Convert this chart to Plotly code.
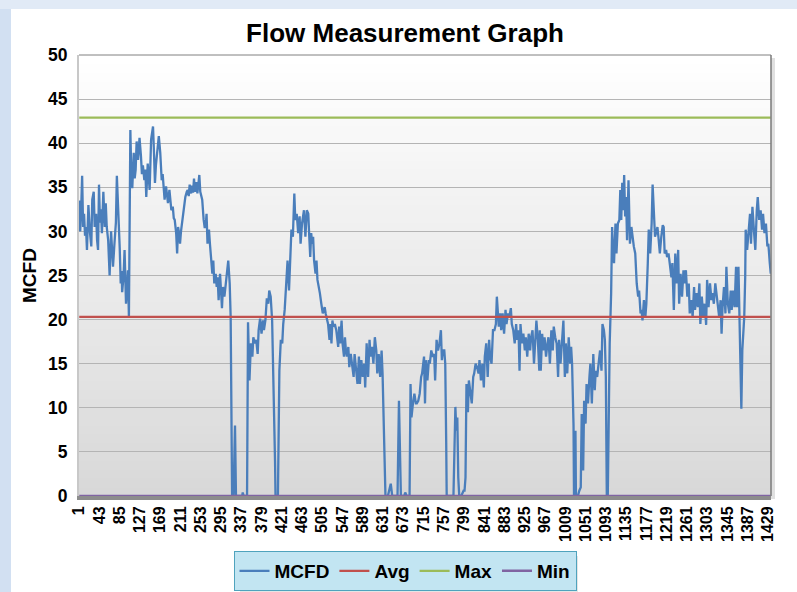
import plotly.graph_objects as go

# ---------------- data ----------------
n_points = 1435
tick_labels = [1, 43, 85, 127, 169, 211, 253, 295, 337, 379, 421, 463, 505, 547, 589,
               631, 673, 715, 757, 799, 841, 883, 925, 967, 1009, 1051, 1093, 1135,
               1177, 1219, 1261, 1303, 1345, 1387, 1429]

mcfd_pairs = [
    (1,33.5),(3,30.0),(5,32.5),(7,36.3),(9,30.5),(11,32.0),(13,29.5),(15,30.5),(17,27.9),(19,31.0),
    (20,33.0),(23,30.0),(26,28.3),(28,33.6),(31,34.5),(33,30.5),(36,32.0),(38,29.0),(40,27.9),(42,35.3),
    (44,31.0),(46,32.5),(48,29.8),(51,34.5),(54,30.5),(56,33.2),(58,30.5),(61,29.0),(64,25.0),(67,30.0),
    (69,27.0),(71,26.0),(74,28.6),(77,31.0),(79,36.3),(81,34.0),(83,31.3),(85,28.0),(87,24.1),(89,25.5),
    (90,23.1),(93,25.0),(95,27.9),(97,24.5),(98,21.8),(100,23.5),(102,25.6),(104,20.3),(107,41.5),(109,36.2),
    (111,34.9),(114,38.9),(116,36.0),(118,37.0),(120,40.2),(123,38.1),(126,40.6),(129,38.5),(131,36.5),(133,37.5),
    (136,35.8),(138,37.0),(140,33.9),(143,37.7),(145,36.5),(147,34.7),(150,40.4),(154,41.9),(156,38.9),(158,35.5),
    (160,37.5),(162,38.9),(166,40.8),(169,38.9),(172,35.8),(174,36.5),(176,34.7),(178,33.6),(181,35.1),(183,34.0),
    (185,33.2),(188,34.7),(190,33.5),(192,32.4),(195,32.8),(197,31.5),(199,31.3),(202,29.8),(204,27.5),(206,30.5),
    (208,29.8),(210,28.6),(212,30.0),(214,30.9),(217,32.8),(219,33.5),(221,33.9),(224,34.5),(226,34.7),(228,34.0),
    (230,35.3),(233,34.3),
    (235,35.2),(237,34.4),(239,36.0),(241,34.5),(244,35.6),(246,34.3),(248,35.8),(250,36.4),(252,34.5),(256,33.6),
    (259,31.3),(261,30.5),(263,30.5),(265,32.0),(267,28.6),(270,30.2),(272,28.6),(275,26.7),(277,25.2),(279,26.7),
    (281,24.1),(284,25.2),(286,23.7),(288,24.8),(290,22.2),(293,25.2),(295,22.6),(297,21.3),(299,23.7),(302,22.6),
    (305,24.1),(308,26.0),(310,26.7),(313,24.1),(315,20.3),(318,0.0),(321,0.0),(324,8.0),(326,0.0),(339,0.0),
    (340,0.4),(342,0.0),(349,0.0),(351,19.7),(354,13.1),(357,17.3),(360,15.8),(362,18.0),(365,17.3),(368,17.7),
    (371,16.1),(373,18.8),(376,20.1),(379,18.4),(382,19.9),(384,18.8),(387,19.9),(390,22.4),(393,21.8),(395,23.3),
    (398,22.6),(401,19.9),(404,13.5),(407,4.0),(408,0.0),(413,0.0),(416,14.2),(419,17.7),(422,17.3),(424,19.5),
    (427,21.1),(430,24.1),(433,26.7),(436,23.3),(438,27.1),(441,30.2),(444,29.4),(447,34.3),(449,31.3),(452,32.0),
    (455,29.8),(458,31.7),(460,28.6),(463,30.9),(467,32.4),(470,29.4),(473,32.4),
    (476,32.0),(478,29.4),(480,27.1),(482,29.8),(484,28.6),(486,29.4),(488,26.7),(491,25.2),(493,26.7),(495,24.5),
    (498,23.7),(500,23.0),(503,21.8),(506,20.7),(508,21.1),(510,21.4),(512,20.7),(514,20.3),(517,19.5),(520,17.7),
    (522,19.5),(524,17.3),(526,19.9),(528,19.2),(531,19.5),(534,18.8),(536,17.3),(538,16.9),(540,19.2),(542,17.3),
    (545,19.9),(547,17.3),(550,15.8),(552,18.0),(554,16.5),(556,15.8),(559,16.9),(561,14.6),(564,16.1),(567,15.0),
    (570,13.5),(572,16.1),(575,14.2),(578,12.7),(581,15.8),(583,12.7),(586,15.4),(589,13.5),(592,15.0),(594,12.3),
    (597,17.3),(600,13.5),(603,17.7),(605,15.8),(608,16.9),(611,15.0),(614,18.0),(617,16.5),(619,13.9),(622,16.1),
    (625,13.5),(628,16.5),(630,13.9),(632,8.2),(634,5.9),(636,0.0),(641,0.0),(644,0.6),(647,1.4),(650,0.0),
    (661,0.0),(664,10.8),(666,5.9),(668,0.0),(675,0.0),(677,0.4),(680,0.0),(686,0.0),(688,12.7),(690,8.9),
    (693,10.5),(696,11.6),(699,10.5),(701,10.5),(704,10.8),(707,11.6),(710,13.5),(712,13.9),
    (716,15.8),(718,10.5),(720,15.4),(723,13.1),(726,15.4),(728,15.0),(731,16.5),(734,15.8),(737,16.1),(739,13.1),
    (742,17.7),(745,16.5),(748,17.3),(751,18.8),(753,15.4),(755,16.5),(758,16.5),(760,15.0),(762,5.9),(763,0.0),
    (777,0.0),(779,5.9),(781,10.1),(783,7.4),(785,8.9),(787,2.1),(789,0.0),(793,0.0),(798,0.6),(800,0.6),
    (802,2.1),(804,12.7),(807,9.5),(809,13.1),(812,12.0),(815,10.5),(818,13.5),(820,13.9),(823,15.0),(826,14.6),
    (829,13.9),(831,15.4),(834,13.1),(837,15.0),(840,12.3),(842,15.8),(845,17.3),(848,13.5),(851,17.7),(853,15.8),
    (856,15.0),(859,18.8),(862,18.8),(865,19.5),(867,22.6),(869,21.1),(871,19.2),(874,20.7),(876,18.8),(879,20.7),
    (882,18.4),(885,21.1),(887,19.5),(890,20.7),(893,20.3),(896,21.3),(898,19.5),(901,18.8),(904,17.3),(907,19.5),
    (909,17.7),(912,18.8),(914,14.2),(916,19.5),(919,17.3),(922,18.4),(925,16.5),(927,18.0),(930,15.8),(933,18.4),
    (936,16.5),(938,18.0),(941,18.8),(944,15.0),(947,17.7),(949,19.9),(952,17.7),(955,14.2),
    (956,18.8),(958,14.2),(961,18.4),(963,16.5),(966,18.0),(969,15.8),(972,17.3),(974,18.0),(977,15.0),(980,18.8),
    (983,16.5),(985,19.2),(988,18.0),(991,17.3),(994,13.5),(996,17.7),(999,15.0),(1002,18.0),(1005,19.9),(1008,13.5),
    (1010,17.3),(1013,13.9),(1016,18.0),(1019,15.0),(1021,16.9),(1023,15.0),(1026,8.0),(1027,0.0),(1030,7.4),(1031,0.0),
    (1035,0.0),(1038,0.6),(1041,1.0),(1043,9.3),(1046,2.9),(1048,10.8),(1051,8.2),(1053,12.7),(1056,10.5),(1059,13.5),
    (1061,15.0),(1064,10.5),(1067,16.1),(1070,12.0),(1072,14.2),(1075,13.5),(1078,15.0),(1081,16.5),(1084,14.2),(1086,19.5),
    (1089,18.8),(1091,17.7),(1093,13.5),(1095,0.0),(1097,0.0),(1099,9.5),(1101,17.3),(1104,23.0),(1106,30.5),(1108,27.5),
    (1110,26.4),(1113,30.9),(1115,27.5),(1118,30.9),(1121,31.3),(1123,34.7),(1125,31.3),(1127,35.5),(1129,32.4),(1131,36.4),
    (1133,31.7),(1135,33.9),(1137,29.0),(1140,35.8),(1143,28.6),(1146,30.5),(1148,29.4),(1151,28.3),(1154,27.5),(1157,24.1),
    (1160,22.6),(1162,23.3),(1165,20.7),(1167,21.1),(1169,19.9),(1172,22.2),(1175,20.3),(1177,21.8),(1180,26.4),(1182,30.2),
    (1185,27.5),(1188,30.9),(1190,35.3),(1193,32.4),(1195,29.4),
    (1197,29.8),(1200,30.5),(1202,29.4),(1205,27.5),(1208,29.4),(1211,30.7),(1213,30.5),(1215,27.5),(1218,27.9),(1220,27.1),
    (1223,27.5),(1226,26.4),(1229,24.8),(1231,26.4),(1234,21.1),(1237,27.5),(1240,24.1),(1243,27.9),(1245,21.8),(1248,25.2),
    (1251,22.6),(1254,25.6),(1256,24.1),(1259,25.6),(1262,22.6),(1265,24.1),(1267,20.7),(1270,22.2),(1273,20.3),(1276,23.7),
    (1278,21.1),(1281,23.0),(1284,21.4),(1287,24.1),(1289,19.5),(1292,22.6),(1295,20.3),(1298,21.8),(1301,19.4),(1303,24.5),
    (1306,21.4),(1309,24.1),(1312,22.2),(1314,23.0),(1317,21.8),(1320,24.1),(1323,22.6),(1325,21.1),(1328,20.3),(1331,22.2),
    (1333,18.4),(1335,21.4),(1338,23.7),(1341,20.7),(1343,26.0),(1346,21.8),(1349,20.7),(1352,23.3),(1354,21.1),(1357,23.3),
    (1360,21.4),(1363,26.0),(1365,21.4),(1368,26.0),(1370,21.1),(1372,13.9),(1374,9.9),(1376,16.5),(1378,18.0),(1380,20.3),
    (1382,24.8),(1383,30.2),(1386,27.9),(1389,30.2),(1392,32.0),(1394,28.6),(1397,32.8),(1400,30.2),(1403,27.9),(1406,32.4),
    (1408,33.9),(1411,31.3),(1414,32.4),(1417,30.2),(1419,32.0),(1422,29.8),(1425,30.9),(1428,28.3),(1430,28.6),(1433,26.4),
    (1435,25.2),
]
mcfd_x = [p[0] for p in mcfd_pairs]
mcfd_y = [p[1] for p in mcfd_pairs]

avg_value = 20.3
max_value = 42.9
min_value = 0.0

# ---------------- figure ----------------
W, H = 797, 592
L, R, T, B = 79, 771, 55, 496
pw, ph = R - L, B - T

def px_x(px):
    return (px - L) / pw

def px_y(py):
    return (B - py) / ph

fig = go.Figure()
x_ends = [mcfd_x[0], mcfd_x[-1]]
fig.add_trace(go.Scatter(x=mcfd_x, y=mcfd_y, mode="lines", name="MCFD",
                         line=dict(color="#4A7EBB", width=2.3)))
fig.add_trace(go.Scatter(x=x_ends, y=[avg_value, avg_value], mode="lines", name="Avg",
                         line=dict(color="#C0504D", width=2.2)))
fig.add_trace(go.Scatter(x=x_ends, y=[max_value, max_value], mode="lines", name="Max",
                         line=dict(color="#9BBB59", width=2.2)))
fig.add_trace(go.Scatter(x=x_ends, y=[min_value, min_value], mode="lines", name="Min",
                         line=dict(color="#8064A2", width=2.5)))

shapes = []
# gradient plot background
nb = 50
for i in range(nb):
    f = (i + 0.5) / nb
    c = int(round(216 + (255 - 216) * f))
    shapes.append(dict(type="rect", xref="x domain", yref="y domain",
                       x0=0, x1=1, y0=i / nb, y1=(i + 1) / nb + 0.002,
                       fillcolor=f"rgb({c},{c},{c})", line=dict(width=0), layer="below"))
# blue frame strips
shapes.append(dict(type="rect", xref="paper", yref="paper",
                   x0=px_x(0), x1=px_x(11), y0=px_y(H), y1=px_y(0),
                   fillcolor="#d2e0f2", line=dict(width=0), layer="below"))
shapes.append(dict(type="rect", xref="paper", yref="paper",
                   x0=px_x(0), x1=px_x(W), y0=px_y(9), y1=px_y(0),
                   fillcolor="#e1eaf6", line=dict(width=0), layer="below"))
# plot area border (top/right) with shadow
shapes.append(dict(type="rect", xref="paper", yref="paper",
                   x0=1, x1=px_x(R + 4), y0=px_y(B + 3), y1=px_y(T + 3),
                   fillcolor="rgba(0,0,0,0.12)", line=dict(width=0), layer="below"))
shapes.append(dict(type="line", xref="paper", yref="paper", x0=0, x1=1, y0=1, y1=1,
                   line=dict(color="#808080", width=1)))
shapes.append(dict(type="line", xref="paper", yref="paper", x0=1, x1=1, y0=0, y1=1,
                   line=dict(color="#7a7a7a", width=1.5)))
# legend drop shadow
shapes.append(dict(type="rect", xref="paper", yref="paper",
                   x0=px_x(240), x1=px_x(578), y0=px_y(593), y1=px_y(556),
                   fillcolor="rgba(0,0,0,0.10)", line=dict(width=0), layer="below"))

fig.update_layout(
    width=W, height=H,
    margin=dict(l=L, r=W - R, t=T, b=H - B),
    paper_bgcolor="#ffffff",
    plot_bgcolor="rgba(0,0,0,0)",
    font=dict(family="Liberation Sans, Arial, sans-serif", color="#000000"),
    title=dict(text="Flow Measurement Graph", x=405 / W, xref="container", xanchor="center",
               y=1 - 33 / H, yref="container", yanchor="middle",
               font=dict(size=26, weight="bold", color="#000000")),
    showlegend=True,
    legend=dict(orientation="h", xref="container", yref="container",
                x=405 / W, xanchor="center", y=1 - 571 / H, yanchor="middle",
                bgcolor="#c2e5f2", bordercolor="#4fa3bd", borderwidth=1,
                font=dict(size=19, weight="bold"), itemwidth=30),
    shapes=shapes,
)
fig.update_xaxes(range=[0.5, n_points + 0.5], tickmode="array", tickvals=tick_labels,
                 ticktext=[str(t) for t in tick_labels], tickangle=-90,
                 tickfont=dict(size=16, weight="bold"), showgrid=False, zeroline=False,
                 showline=True, linecolor="#8c8c8c", linewidth=4, ticks="",
                 automargin=False)
fig.update_yaxes(range=[0, 50], dtick=5, tickfont=dict(size=17.5, weight="bold"),
                 showgrid=True, gridcolor="#b4b4b4", gridwidth=1, zeroline=False,
                 showline=True, linecolor="#c8c8c8", linewidth=2, ticks="",
                 ticklabelstandoff=6, automargin=False,
                 title=dict(text="MCFD", font=dict(size=19, weight="bold"), standoff=6))

fig.write_html("out.html", config={"displayModeBar": False},
               post_script="document.body.style.margin='0';")
